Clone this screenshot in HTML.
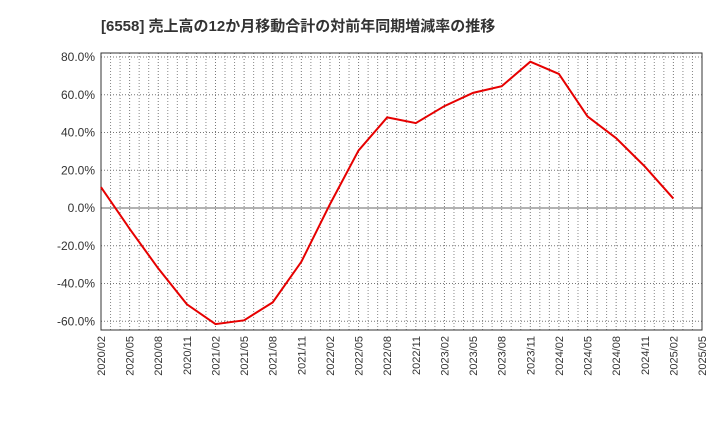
<!DOCTYPE html>
<html><head><meta charset="utf-8"><style>
body{margin:0;background:#fff;}
svg text{font-family:"Liberation Sans","Noto Sans CJK JP",sans-serif;}
</style></head><body>
<svg id="chart" width="720" height="440" xmlns="http://www.w3.org/2000/svg">
<text x="101" y="31" font-size="15" font-weight="bold" fill="#333">[6558]  売上高の12か月移動合計の対前年同期増減率の推移</text>
<g id="grid"></g><g id="axes"></g><g id="series"></g>
</svg>
<script>
const xLabels=["2020/02","2020/05","2020/08","2020/11","2021/02","2021/05","2021/08","2021/11","2022/02","2022/05","2022/08","2022/11","2023/02","2023/05","2023/08","2023/11","2024/02","2024/05","2024/08","2024/11","2025/02","2025/05"];
const yTicks=[80,60,40,20,0,-20,-40,-60];
const pointIdx=[0,1,2,3,4,5,6,7,8,9,10,11,12,13,14,15,16,17,18,19,20];
const values=[11,-11,-32,-51,-61.5,-59.5,-50,-28.5,2,30.5,48,45,54,61,64.5,77.5,71,48.5,37,22,5];
const L=101,R=702,T=53,B=330;
const x=i=>L+i*(R-L)/(xLabels.length-1);
const y=v=>208-v*(208-57)/80;
const ns="http://www.w3.org/2000/svg";
function mk(tag,attrs,parent,txt){const e=document.createElementNS(ns,tag);for(const k in attrs)e.setAttribute(k,attrs[k]);if(txt!==undefined)e.textContent=txt;document.getElementById(parent).appendChild(e);return e;}
const frame=mk('rect',{x:L,y:T,width:R-L,height:B-T,fill:'none',stroke:'#333','stroke-width':1},'axes');


for(let m=1;m<(xLabels.length-1)*3;m++){
  if(m%3===0)continue;
  const g=mk('line',{x1:x(m/3),x2:x(m/3),y1:T,y2:B,stroke:'#888','stroke-dasharray':'1,2','stroke-width':1},'grid');
  
  
}
xLabels.forEach((lb,i)=>{
  const g=mk('line',{x1:x(i),x2:x(i),y1:T,y2:B,stroke:'#777','stroke-dasharray':'1,2','stroke-width':1},'grid');
  
  
  const t=mk('text',{x:0,y:0,'font-size':11,fill:'#333','text-anchor':'end',transform:`translate(${x(i)+4},${B+6}) rotate(-90)`},'axes',lb);
  
  
});
yTicks.forEach(v=>{
  const g=mk('line',{x1:L,x2:R,y1:y(v),y2:y(v),stroke:v===0?'#666':'#777','stroke-dasharray':v===0?'none':'1,2','stroke-width':1},'grid');
  
  
  const t=mk('text',{x:L-6,y:y(v)+4,'font-size':12,fill:'#333','text-anchor':'end'},'axes',v.toFixed(1)+'%');
  
  
});
const pts=values.map((v,i)=>x(pointIdx[i])+','+y(v)).join(' ');
const line=mk('polyline',{points:pts,fill:'none',stroke:'#e60000','stroke-width':2},'series');


</script>
</body></html>
